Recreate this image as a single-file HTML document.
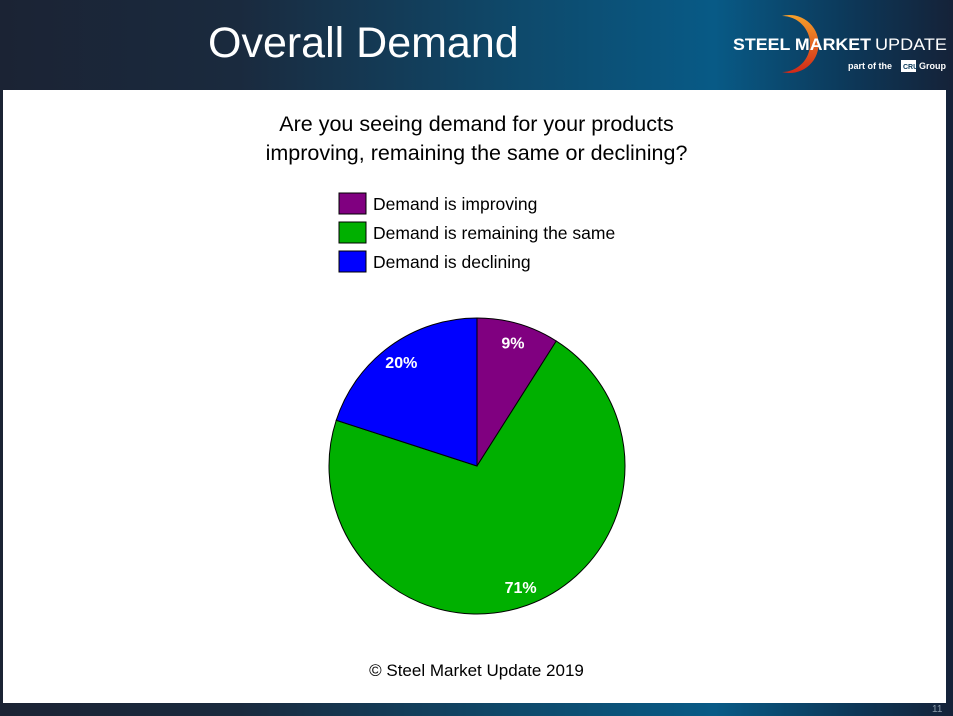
<!DOCTYPE html>
<html><head><meta charset="utf-8"><style>
body{margin:0;width:953px;height:716px;overflow:hidden;font-family:"Liberation Sans",sans-serif;}
#bg{position:absolute;left:0;top:0;width:953px;height:716px;background:linear-gradient(90deg,#1b2334 0%,#1a2a3e 25%,#0e4a6c 55%,#085a86 75%,#0d3656 90%,#152238 100%);}
#panel{position:absolute;left:3px;top:90px;width:943px;height:613px;background:#fff;}
</style></head><body>
<div id="bg"></div>
<div style="position:absolute;left:208px;top:19px;color:#fff;font-size:43px;">Overall Demand</div>
<svg style="position:absolute;left:720px;top:8px" width="233" height="70">
<defs><linearGradient id="og" x1="0" y1="0" x2="0" y2="1"><stop offset="0" stop-color="#f7a02a"/><stop offset="1" stop-color="#d02818"/></linearGradient></defs>
<path d="M62,8 A29,29 0 1 1 62,64 A26,26 0 1 0 62,8 Z" fill="url(#og)"/>
<text x="13" y="42" fill="#fff" font-size="17" font-weight="bold" textLength="138" lengthAdjust="spacingAndGlyphs">STEEL MARKET</text>
<text x="155" y="42" fill="#fff" font-size="17" textLength="72" lengthAdjust="spacingAndGlyphs">UPDATE</text>
<text x="128" y="61" fill="#fff" font-size="9" font-weight="bold">part of the</text>
<rect x="181" y="52" width="15" height="12" fill="#fff"/>
<text x="183" y="61" fill="#0a3a5a" font-size="7" font-weight="bold">CRU</text>
<text x="199" y="61" fill="#fff" font-size="9" font-weight="bold">Group</text>
</svg>
<div id="panel"></div>
<div style="position:absolute;left:0;width:953px;top:110px;text-align:center;font-size:21.5px;line-height:29px;color:#000;">Are you seeing demand for your products<br>improving, remaining the same or declining?</div>
<svg id="chart" style="position:absolute;left:0;top:0" width="953" height="716"></svg>
<div style="position:absolute;left:0;width:953px;top:661px;text-align:center;font-size:17px;">© Steel Market Update 2019</div>
<div style="position:absolute;left:932px;top:704px;font-size:10px;color:#8a9aaa;">11</div>
<script>
const categories=["Demand is improving","Demand is remaining the same","Demand is declining"];
const values=[9,71,20];
const labels=["9%","71%","20%"];
const colors=["#800080","#00b000","#0000ff"];
const svg=document.getElementById('chart');const NS="http://www.w3.org/2000/svg";
const cx=477,cy=466,r=148;
const total=values.reduce((a,b)=>a+b,0);
let acc=0;
values.forEach((v,i)=>{
 const a0=acc/total*2*Math.PI;acc+=v;const a1=acc/total*2*Math.PI;
 const x0=cx+r*Math.sin(a0),y0=cy-r*Math.cos(a0),x1=cx+r*Math.sin(a1),y1=cy-r*Math.cos(a1);
 const p=document.createElementNS(NS,'path');
 p.setAttribute('d',`M${cx},${cy}L${x0},${y0}A${r},${r} 0 ${a1-a0>Math.PI?1:0} 1 ${x1},${y1}Z`);
 p.setAttribute('fill',colors[i]);p.setAttribute('stroke','#000');p.setAttribute('stroke-width','1');
 
 
 svg.appendChild(p);
 const am=(a0+a1)/2;
 const t=document.createElementNS(NS,'text');
 t.setAttribute('x',cx+r*0.87*Math.sin(am));t.setAttribute('y',cy-r*0.87*Math.cos(am)+6);
 t.setAttribute('text-anchor','middle');t.setAttribute('fill','#fff');t.setAttribute('font-size','16');t.setAttribute('font-weight','bold');
 t.textContent=labels[i];
 
 
 svg.appendChild(t);
});
categories.forEach((c,i)=>{
 const y=193+i*29;
 const rc=document.createElementNS(NS,'rect');
 rc.setAttribute('x',339);rc.setAttribute('y',y);rc.setAttribute('width',27);rc.setAttribute('height',21);
 rc.setAttribute('fill',colors[i]);rc.setAttribute('stroke','#000');
 
 
 svg.appendChild(rc);
 const t=document.createElementNS(NS,'text');
 t.setAttribute('x',373);t.setAttribute('y',y+17);t.setAttribute('font-size','17.5');t.textContent=c;
 
 
 svg.appendChild(t);
});
</script>
</body></html>
